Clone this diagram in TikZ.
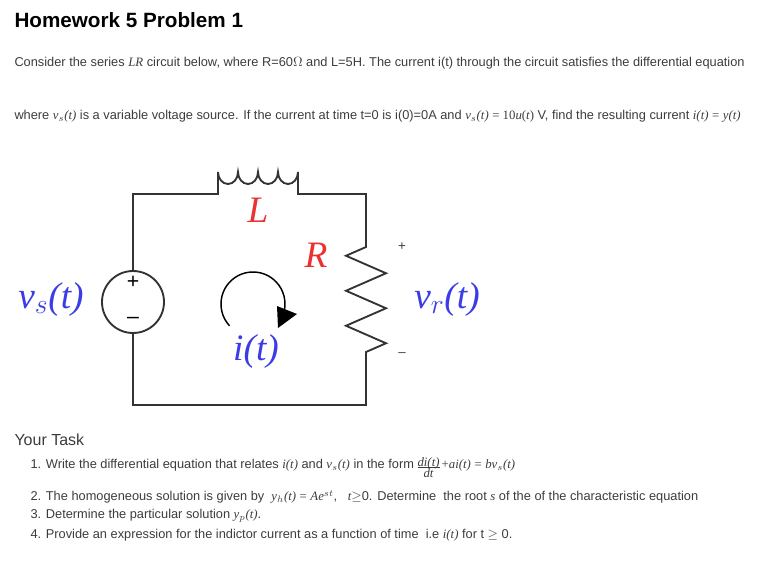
\documentclass[tikz,border=0pt]{standalone}
\usepackage{fontspec}
\setmainfont{Liberation Sans}
\newfontfamily\mathserif{Liberation Serif}
\usetikzlibrary{arrows.meta,decorations.pathmorphing}
\definecolor{txtgray}{RGB}{60,60,60}
\definecolor{circblue}{RGB}{60,60,230}
\definecolor{circred}{RGB}{235,50,50}
\tikzset{every picture/.style={line width=0.75pt}}
\tikzset{
  wire/.style={draw=black!80,line width=1.4pt},
  bodytext/.style={anchor=west,inner sep=0pt,text=txtgray,font=\fontsize{9.6}{11}\selectfont},
  redlab/.style={text=circred,font=\mathserif\itshape\fontsize{28}{30}\selectfont},
  bluelab/.style={text=circblue,font=\mathserif\itshape\fontsize{28}{30}\selectfont}
}
\newcommand{\mi}[1]{{\mathserif\itshape #1}}
\newcommand{\fracdt}{\raisebox{-0.3em}{\begin{tabular}{@{}c@{}}\mi{di(t)}\\[-3pt]\hline\rule{0pt}{8pt}\mi{dt}\end{tabular}}}
\begin{document}
\begin{tikzpicture}[x=0.75pt,y=0.75pt,yscale=-1,xscale=1]
\useasboundingbox (0,0) rectangle (765,569);

%Title and text
\node[anchor=west,inner sep=0pt,font=\bfseries\fontsize{15.5}{18}\selectfont] (title) at (14,20) {Homework 5 Problem 1};
\node[bodytext] (line1) at (14,63) {Consider the series \mi{LR} circuit below, where R=60$\Omega$ and L=5H. The current i(t) through the circuit satisfies the differential equation};
\node[bodytext] (line2) at (14,116) {where \mi{v$_s$(t)} is a variable voltage source. If the current at time t=0 is i(0)=0A and \mi{v$_s$(t)} {\mathserif= 10\mi{u}(\mi{t})} V, find the resulting current \mi{i(t)} {\mathserif=} \mi{y(t)}};

%Circuit
\coordinate (tl) at (133,194);
\coordinate (bl) at (133,405);
\coordinate (br) at (366,405);
\coordinate (tr) at (366,194);
\coordinate (l1) at (218,194);
\coordinate (l2) at (298,194);
\coordinate (r1) at (366,247);
\coordinate (r2) at (366,352);
\node[circle,draw=black!80,line width=1.4pt,minimum size=62pt*0.75,inner sep=0pt] (src) at (133,302) {};
\node[font=\fontsize{16}{16}\selectfont] (plus) at (133,282) {+};
\node[font=\fontsize{16}{16}\selectfont] (minus) at (133,320) {--};
\draw[wire] (src.north) -- (tl) -- (l1) -- ++(0,-22)
  arc (180:0:10 and 12) arc (180:0:10 and 12) arc (180:0:10 and 12) arc (180:0:10 and 12) -- (l2) -- (tr) -- (r1)
  -- ++(-20,8.75) -- ++(40,17.5) -- ++(-40,17.5) -- ++(40,17.5) -- ++(-40,17.5) -- ++(40,17.5) -- ++(-20,8.75)
  -- (r2) -- (br) -- (bl) -- (src.south);

%Labels
\node[redlab] (Llab) at (258,210) {L};
\node[redlab] (Rlab) at (316,255) {R};
\node[font=\fontsize{10}{10}\selectfont,text=txtgray] (vp) at (402,247) {+};
\node[font=\fontsize{10}{10}\selectfont,text=txtgray] (vm) at (402,355) {--};
\node[bluelab] (vr) at (447,300) {v$_r$(t)};
\node[bluelab] (vs) at (51,300) {v$_s$(t)};
\node[bluelab] (it) at (256,352) {i(t)};
\coordinate (loopc) at (253,304);
\draw[line width=1.1pt] (loopc) ++(137:32) arc (137:372:32) coordinate (loopend);
\fill (277,306) -- (297,314) -- (278,328) -- cycle;

%Tasks
\node[anchor=west,inner sep=0pt,text=txtgray,font=\fontsize{12}{14}\selectfont] (task) at (14,440) {Your Task};
\node[bodytext] (t1) at (30,469) {1. Write the differential equation that relates \mi{i(t)} and \mi{v$_s$(t)} in the form \fracdt\,{\mathserif+}\mi{ai(t)} {\mathserif=} \mi{bv$_s$(t)}};
\node[bodytext] (t2) at (30,497) {2. The homogeneous solution is given by \ \mi{y$_h$(t)} {\mathserif=} \mi{Ae$^{st}$}, \ \ \mi{t}$\geq$0. Determine \ the root \mi{s} of the of the characteristic equation};
\node[bodytext] (t3) at (30,516) {3. Determine the particular solution \mi{y$_p$(t)}.};
\node[bodytext] (t4) at (30,535) {4. Provide an expression for the indictor current as a function of time \ i.e \mi{i(t)} for t $\geq$ 0.};
\end{tikzpicture}
\end{document}
